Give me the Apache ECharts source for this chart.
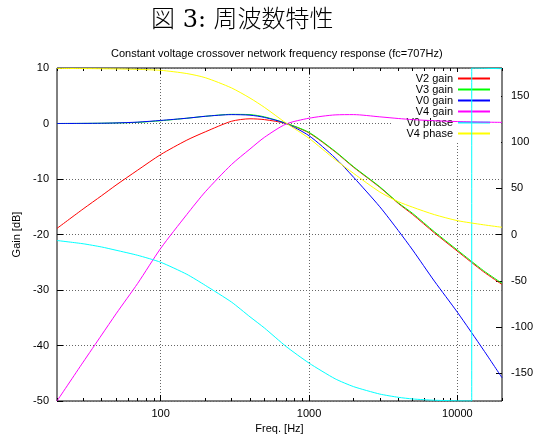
<!DOCTYPE html>
<html>
<head>
<meta charset="utf-8">
<title>周波数特性</title>
<script src="https://cdn.jsdelivr.net/npm/echarts@6/dist/echarts.min.js"></script>
<style>
  html, body { margin: 0; padding: 0; background: #fff; }
  #chart { width: 533px; height: 437px; }
</style>
</head>
<body>
<div id="chart"></div>
<script>
// 読み取り値（周波数 Hz）
const freqs = [20, 30, 40, 50, 70, 100, 150, 200, 300, 400, 500, 700, 1000, 1500, 2000, 3000, 4000, 5000, 7000, 10000, 15000, 20000]

// gain [dB]
const v2Gain = [-18.9, -15.4, -13.0, -11.1, -8.4, -5.6, -3.0, -1.5, 0.4, 0.85, 0.7, 0.0, -1.7, -5.1, -7.9, -11.5, -14.4, -16.4, -19.7, -23.0, -26.7, -29.0]
const v3Gain = [0, 0.02, 0.05, 0.1, 0.2, 0.5, 0.95, 1.3, 1.65, 1.6, 1.2, 0.05, -1.6, -5.0, -7.8, -11.4, -14.3, -16.2, -19.5, -22.8, -26.5, -28.8]
const v0Gain = [0, 0.02, 0.05, 0.1, 0.25, 0.55, 0.95, 1.3, 1.6, 1.5, 1.1, 0.0, -2.2, -6.2, -9.7, -15.0, -19.3, -22.8, -28.4, -34.0, -40.8, -45.8]
const v4Gain = [-50, -43.0, -38.1, -34.3, -28.8, -22.5, -16.4, -12.3, -7.4, -4.6, -2.5, -0.1, 0.95, 1.55, 1.6, 1.2, 0.9, 0.7, 0.5, 0.35, 0.25, 0.2]

// phase [deg]（V0 phase は 12.5kHz 付近で -180 → +180 に折り返す）
const v0PhaseFreqs = [20, 30, 40, 50, 70, 100, 150, 200, 300, 400, 500, 700, 1000, 1500, 2000, 3000, 4000, 5000, 7000, 10000, 12500, 12500, 15000, 20000]
const v0Phase = [-6.5, -10, -13.5, -17, -22.5, -30, -43, -55, -73, -89, -101, -121, -139, -156, -164.5, -172.5, -176, -177.8, -179.2, -179.8, -180, 180, 179.7, 179.3]
const v4Phase = [179.5, 179.4, 179.2, 179, 178.5, 177.5, 174, 169.5, 158.5, 147.5, 137.5, 120.5, 104, 81, 66, 46, 35.5, 29.5, 21.5, 15, 10.5, 7.8]

// 軸目盛
const xMajorTicks = [100, 1000, 10000]
const xMinorTicks = [20, 30, 40, 50, 60, 70, 80, 90, 200, 300, 400, 500, 600, 700, 800, 900, 2000, 3000, 4000, 5000, 6000, 7000, 8000, 9000, 20000]
const phaseTicks = [-150, -100, -50, 0, 50, 100, 150]

const seriesNames = ['V2 gain', 'V3 gain', 'V0 gain', 'V4 gain', 'V0 phase', 'V4 phase']
const seriesColors = ['#ff0000', '#00ff00', '#0000ff', '#ff00ff', '#00ffff', '#ffff00']

const labelFont = { color: '#000', fontSize: 11, fontFamily: '"Liberation Sans", Arial, sans-serif' }

const pairs = (xs, ys) => xs.map((x, i) => [x, ys[i]])

// 目盛りだけを描く補助の対数軸（上辺のミラー目盛り・補助目盛り用）
function tickAxis(position, ticks, length) {
  return {
    type: 'log',
    logBase: 10,
    min: 20,
    max: 20000,
    position: position,
    gridIndex: 0,
    axisLine: { show: false, onZero: false },
    axisTick: { show: true, inside: true, length: length, customValues: ticks, lineStyle: { color: '#000' } },
    axisLabel: { show: false },
    splitLine: { show: false }
  }
}

function lineSeries(name, color, yAxisIndex, data, smooth) {
  return {
    name: name,
    type: 'line',
    xAxisIndex: 0,
    yAxisIndex: yAxisIndex,
    data: data,
    showSymbol: false,
    smooth: smooth,
    z: 3,
    lineStyle: { width: 1, color: color },
    itemStyle: { color: color }
  }
}

const chart = echarts.init(document.getElementById('chart'))

const series = [
  lineSeries(seriesNames[0], seriesColors[0], 0, pairs(freqs, v2Gain), 0.25),
  lineSeries(seriesNames[1], seriesColors[1], 0, pairs(freqs, v3Gain), 0.25),
  lineSeries(seriesNames[2], seriesColors[2], 0, pairs(freqs, v0Gain), 0.25),
  lineSeries(seriesNames[3], seriesColors[3], 0, pairs(freqs, v4Gain), 0.25),
  lineSeries(seriesNames[4], seriesColors[4], 1, pairs(v0PhaseFreqs, v0Phase), 0.2),
  lineSeries(seriesNames[5], seriesColors[5], 1, pairs(freqs, v4Phase), 0.25)
]

chart.setOption({
  animation: false,
  backgroundColor: '#fff',
  title: [
    {
      text: '図 3: 周波数特性',
      left: 146,
      top: 4,
      textStyle: { fontSize: 24, fontWeight: 300, color: '#000', fontFamily: '"DejaVu Serif", "Noto Sans CJK JP", serif' }
    },
    {
      text: 'Constant voltage crossover network frequency response (fc=707Hz)',
      left: 106,
      top: 43,
      textStyle: { fontSize: 11, fontWeight: 'normal', color: '#000', fontFamily: '"Liberation Sans", Arial, sans-serif' }
    }
  ],
  grid: {
    left: 57,
    right: 31,
    top: 68,
    bottom: 36,
    outerBoundsMode: 'none',
    show: true,
    borderColor: '#000',
    borderWidth: 1,
    backgroundColor: 'transparent'
  },
  legend: {
    orient: 'vertical',
    right: 32,
    top: 72,
    z: 1,
    align: 'right',
    icon: 'rect',
    itemWidth: 32,
    itemHeight: 2,
    itemGap: 0,
    padding: [1, 11, 4, 14],
    backgroundColor: '#fff',
    data: seriesNames,
    textStyle: { color: '#000', fontSize: 11, lineHeight: 11, fontFamily: '"Liberation Sans", Arial, sans-serif' }
  },
  xAxis: [
    {
      type: 'log',
      logBase: 10,
      min: 20,
      max: 20000,
      position: 'bottom',
      name: 'Freq. [Hz]',
      nameLocation: 'middle',
      nameGap: 19,
      nameTextStyle: labelFont,
      axisLine: { show: false, onZero: false },
      axisTick: { show: true, inside: true, length: 6, customValues: xMajorTicks, lineStyle: { color: '#000' } },
      axisLabel: Object.assign({ customValues: xMajorTicks, margin: 7, formatter: v => String(v) }, labelFont),
      splitLine: { show: true, lineStyle: { color: '#666', width: 1, type: [1, 2] } }
    },
    tickAxis('bottom', xMinorTicks, 3),
    tickAxis('top', xMinorTicks, 3),
    tickAxis('top', xMajorTicks, 6)
  ],
  yAxis: [
    {
      type: 'value',
      min: -50,
      max: 10,
      interval: 10,
      position: 'left',
      name: 'Gain [dB]',
      nameLocation: 'middle',
      nameGap: 34,
      nameTextStyle: labelFont,
      axisLine: { show: false },
      axisTick: { show: true, inside: true, length: 6, lineStyle: { color: '#000' } },
      axisLabel: Object.assign({ margin: 8 }, labelFont),
      splitLine: { show: true, lineStyle: { color: '#666', width: 1, type: [1, 2] } }
    },
    {
      type: 'value',
      min: -180,
      max: 180,
      position: 'right',
      axisLine: { show: false },
      axisTick: { show: true, inside: true, length: 6, customValues: phaseTicks, lineStyle: { color: '#000' } },
      axisLabel: Object.assign({ customValues: phaseTicks, margin: 9 }, labelFont),
      splitLine: { show: false }
    }
  ],
  series: series
})
</script>
</body>
</html>
